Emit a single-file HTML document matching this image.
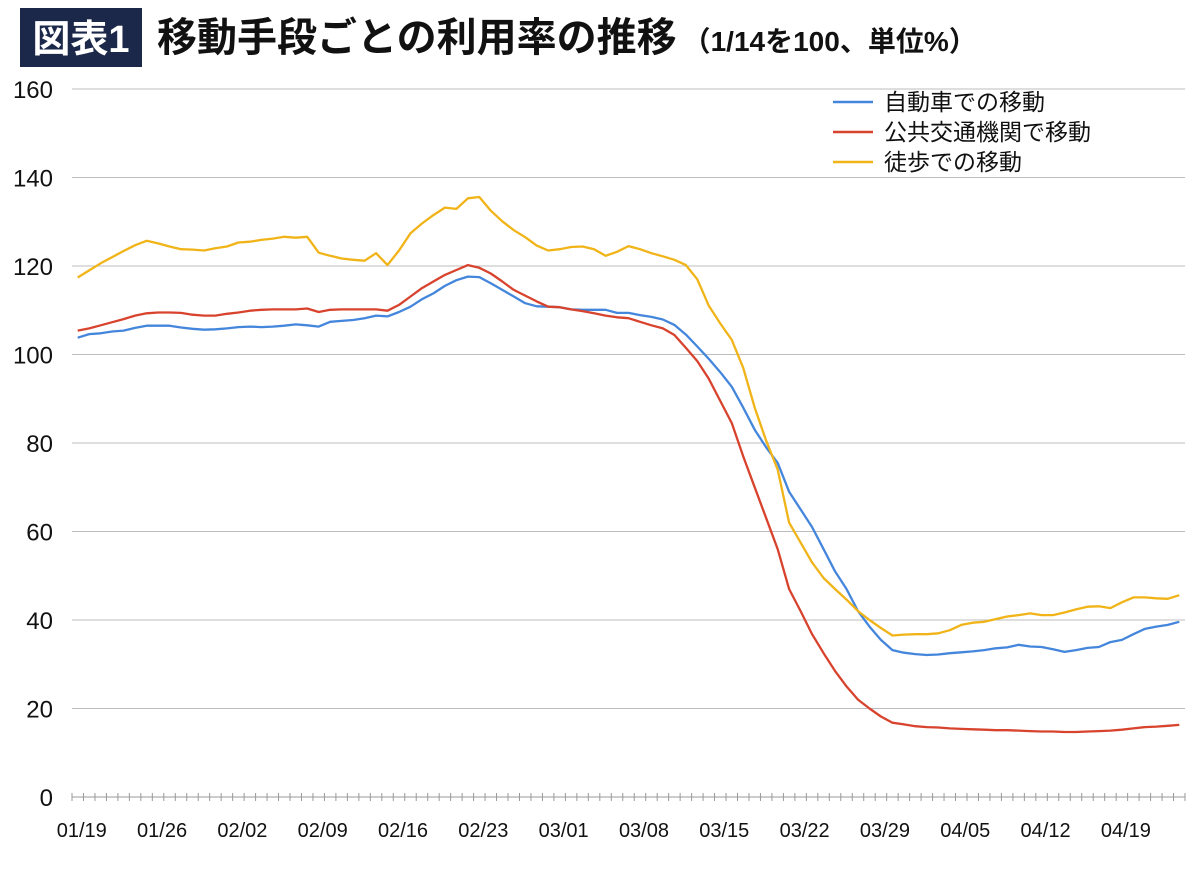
<!DOCTYPE html>
<html><head><meta charset="utf-8">
<style>
body{margin:0;background:#fff;}
svg text{font-family:"Liberation Sans","Noto Sans CJK JP",sans-serif;}
</style></head>
<body>
<svg id="chart" width="1197" height="885" viewBox="0 0 1197 885" xmlns="http://www.w3.org/2000/svg">
<rect x="0" y="0" width="1197" height="885" fill="#fff"/>
<rect x="20" y="8" width="122" height="59" fill="#1b2849"/>
<text x="81" y="52" text-anchor="middle" fill="#fff" font-size="38" font-weight="bold">図表1</text>
<text x="157" y="51" fill="#111" font-size="40" font-weight="bold">移動手段ごとの利用率の推移<tspan font-size="28" dx="6">（1/14を100、単位%）</tspan></text>
<g id="grid"></g>
<g id="yaxis"></g>
<g id="xaxis"></g>
<g id="series"></g>
<g id="legend"></g>
</svg>
<script>
const yTicks = [0,20,40,60,80,100,120,140,160];
const xLabels = ["01/19","01/26","02/02","02/09","02/16","02/23","03/01","03/08","03/15","03/22","03/29","04/05","04/12","04/19"];
const seriesNames = ["自動車での移動","公共交通機関で移動","徒歩での移動"];
const carValues = [103.8,104.6,104.8,105.2,105.4,106.0,106.5,106.5,106.5,106.1,105.8,105.6,105.7,105.9,106.2,106.3,106.2,106.3,106.5,106.8,106.6,106.3,107.4,107.6,107.8,108.2,108.8,108.6,109.6,110.8,112.5,113.8,115.5,116.8,117.6,117.5,
116.1,114.6,113.1,111.6,110.9,110.8,110.7,110.2,110.1,110.1,110.1,109.4,109.4,108.9,108.5,
107.9,106.7,104.5,101.8,99,96,92.7,88,83,79,75.5,69,65,61,56,51,47,42,38.5,35.5,33.2,32.6,32.3,
32.1,32.2,32.5,32.7,32.9,33.2,33.6,33.8,34.4,34.0,33.9,33.4,32.8,33.2,33.7,33.9,35.0,35.5,36.8,38.0,38.5,38.9,39.6];
const transitValues = [105.4,105.9,106.6,107.3,108,108.8,109.3,109.5,109.5,109.4,109.0,108.8,108.8,109.2,109.5,109.9,110.1,110.2,110.2,110.2,110.4,109.6,110.1,110.2,110.2,110.2,110.2,109.9,111.2,113.1,115,116.5,118,119.1,120.2,119.6,
118.3,116.5,114.6,113.3,112,110.8,110.7,110.2,109.8,109.3,108.8,108.4,108.2,107.4,106.6,
105.9,104.4,101.5,98.5,94.5,89.5,84.5,77,70,63,56,47,42,36.8,32.5,28.5,25,22,20,18.2,16.8,16.4,16,
15.8,15.7,15.5,15.4,15.3,15.2,15.1,15.1,15.0,14.9,14.8,14.8,14.7,14.7,14.8,14.9,15.0,15.2,15.5,15.8,15.9,16.1,16.3];
const walkValues = [117.4,119,120.6,122,123.4,124.7,125.7,125.1,124.4,123.8,123.7,123.5,124.0,124.4,125.3,125.5,125.9,126.2,126.6,126.4,126.6,123,122.3,121.7,121.4,121.2,122.9,120.2,123.5,127.4,129.6,131.5,133.2,132.9,135.3,135.6,
132.5,130.1,128.1,126.5,124.6,123.5,123.8,124.3,124.4,123.8,122.3,123.2,124.5,123.8,122.9,
122.2,121.4,120.2,117,111,107,103.3,97,88,80.5,74,62,57.5,53,49.5,47,44.6,42,40,38.2,36.5,36.7,36.8,
36.8,37.0,37.7,38.9,39.4,39.6,40.2,40.8,41.1,41.5,41.1,41.1,41.7,42.4,43.0,43.1,42.7,44.0,45.1,45.1,44.9,44.8,45.6];

const NS = "http://www.w3.org/2000/svg";
const plotL = 72, plotR = 1185, y0px = 797, y160px = 89;
const nDays = carValues.length;
const step = (plotR - plotL) / nDays;
function xPos(i){ return plotL + step * (i + 0.5); }
function yPos(v){ return y0px - (v / 160) * (y0px - y160px); }
function mk(tag, attrs, parent){ const e = document.createElementNS(NS, tag); for (const k in attrs) e.setAttribute(k, attrs[k]); parent.appendChild(e); return e; }

const grid = document.getElementById('grid');
const yaxis = document.getElementById('yaxis');
yTicks.forEach(t => {
  if (t > 0) {
    const l = mk('line', {x1: plotL, x2: plotR, y1: yPos(t), y2: yPos(t), stroke: '#bdbdbd', 'stroke-width': 1}, grid);
    
    
  }
  const tx = mk('text', {x: 53, y: yPos(t) + 9, 'text-anchor': 'end', 'font-size': 24, fill: '#111'}, yaxis);
  tx.textContent = t;
  
  
});

const xaxis = document.getElementById('xaxis');
const axl = mk('line', {x1: plotL, x2: plotR, y1: y0px, y2: y0px, stroke: '#999', 'stroke-width': 1}, xaxis);


for (let i = 0; i <= nDays; i++) {
  const tk = mk('line', {x1: plotL + step * i, x2: plotL + step * i, y1: y0px - 4, y2: y0px + 4, stroke: '#999', 'stroke-width': 1}, xaxis);
  
  
}
xLabels.forEach((lab, k) => {
  const tx = mk('text', {x: xPos(k * 7) + 4, y: 837, 'text-anchor': 'middle', 'font-size': 20, fill: '#111'}, xaxis);
  tx.textContent = lab;
  
  
});

const seriesG = document.getElementById('series');
const allSeries = [
  {vals: carValues, color: '#4486dc', key: 'car'},
  {vals: transitValues, color: '#d8432e', key: 'transit'},
  {vals: walkValues, color: '#f1b418', key: 'walk'}
];
allSeries.forEach(s => {
  const d = s.vals.map((v, i) => (i ? 'L' : 'M') + xPos(i).toFixed(1) + ' ' + yPos(v).toFixed(1)).join(' ');
  const p = mk('path', {d: d, fill: 'none', stroke: s.color, 'stroke-width': 2.3, 'stroke-linejoin': 'round'}, seriesG);
  
  
});

const legend = document.getElementById('legend');
allSeries.forEach((s, i) => {
  const y = 102 + i * 30;
  const l = mk('line', {x1: 833, x2: 873, y1: y, y2: y, stroke: s.color, 'stroke-width': 2.5}, legend);
  
  
  const t = mk('text', {x: 884, y: y + 8, 'font-size': 23, fill: '#111'}, legend);
  t.textContent = seriesNames[i];
  
  
});
</script>
</body></html>
